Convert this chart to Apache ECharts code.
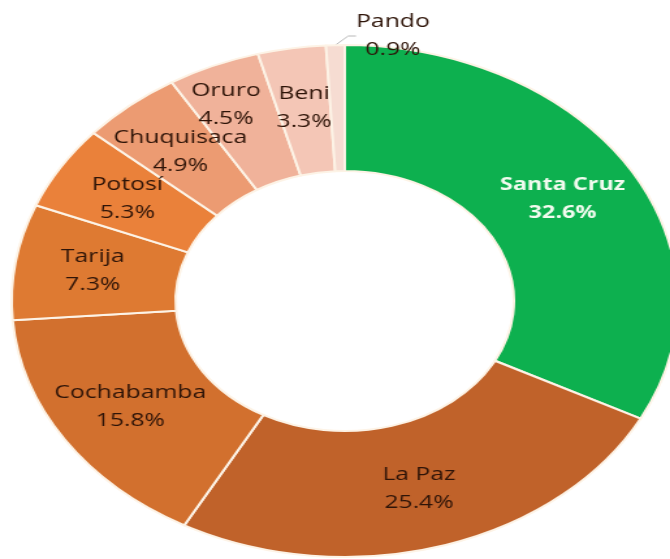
<!DOCTYPE html>
<html>
<head>
<meta charset="utf-8">
<script src="https://cdn.jsdelivr.net/npm/echarts@6/dist/echarts.min.js"></script>
<style>
html,body{margin:0;padding:0;background:#fff;overflow:hidden;}
#wrap{width:670px;height:559px;overflow:hidden;position:relative;}
#chart{width:515px;height:559px;transform:scaleX(1.301);transform-origin:0 0;position:absolute;left:0;top:0;}
</style>
</head>
<body>
<div id="wrap"><div id="chart"></div></div>
<script>
const categories = ['Santa Cruz','La Paz','Cochabamba','Tarija','Potosí','Chuquisaca','Oruro','Beni','Pando'];
const values = [32.6, 25.4, 15.8, 7.3, 5.3, 4.9, 4.5, 3.3, 0.9];
const colors = ['#0db04f','#c0622a','#d2702e','#de7a32','#ea813a','#ec9b72','#f0b29a','#f4c6b6','#f6dcd2'];

const chart = echarts.init(document.getElementById('chart'), null, {renderer:'canvas'});
const data = categories.map((c,i)=>{
  const d = {name:c, value:values[i], itemStyle:{color:colors[i]}};
  if (c === 'Santa Cruz') {
    d.label = {color:'#f2fbef', fontWeight:'bold', fontSize:18};
  }
  if (c === 'Oruro') {
    d.label = {offset:[-14,-16]};
  }
  if (c === 'Pando') {
    d.label = {position:'outside', color:'#2e1408'};
    d.labelLine = {show:true, length:40, length2:6, lineStyle:{color:'#b8b8b8', width:1}};
  }
  return d;
});

chart.setOption({
  animation:false,
  series:[{
    type:'pie',
    center:[265, 301],
    radius:[130, 256],
    startAngle:90,
    clockwise:true,
    avoidLabelOverlap:false,
    itemStyle:{borderColor:'#fdf3e6', borderWidth:2},
    label:{
      show:true,
      position:'inside',
      formatter:(p)=>p.name+'\n'+p.value.toFixed(1)+'%',
      fontFamily:'Open Sans',
      fontSize:19,
      lineHeight:28,
      color:'#2e1408',
      align:'center'
    },
    labelLine:{show:true, lineStyle:{color:'#b8b8b8', width:1}},
    labelLayout:function(params){
      if (params.dataIndex === 8) {
        return {x:302, y:36, align:'center', verticalAlign:'middle'};
      }
      return {};
    },
    data:data
  }]
});
</script>
</body>
</html>
